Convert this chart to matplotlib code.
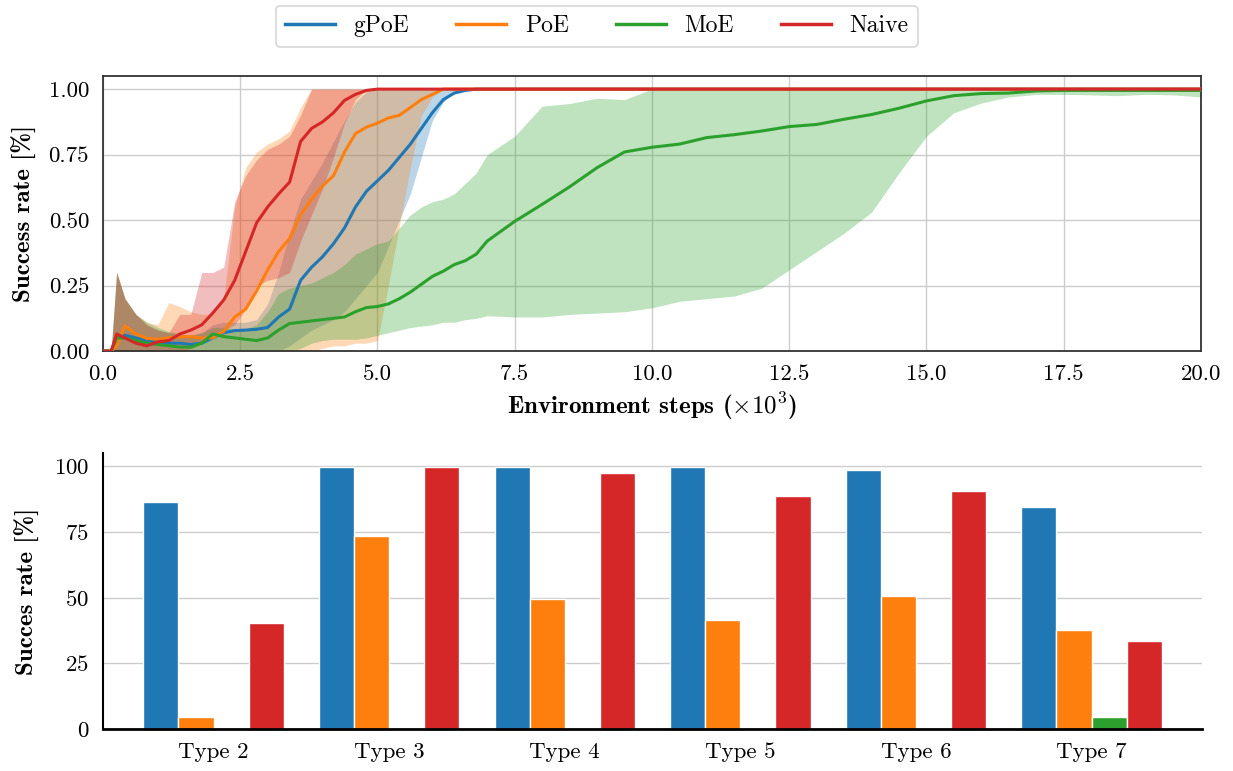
import numpy as np
import matplotlib
matplotlib.use("Agg")
import matplotlib.pyplot as plt
from matplotlib.lines import Line2D

plt.rcParams['font.family'] = ['cmr10', 'DejaVu Serif']
plt.rcParams['mathtext.fontset'] = 'cm'
plt.rcParams['axes.unicode_minus'] = False
plt.rcParams['axes.formatter.use_mathtext'] = True

# ---- data: learning curves (x in 10^3 env steps) ----
x_early = [0.0, 0.15, 0.25, 0.4, 0.6, 0.8, 1.0, 1.2, 1.4, 1.6, 1.8, 2.0, 2.2, 2.4,
           2.6, 2.8, 3.0, 3.2, 3.4, 3.6, 3.8, 4.0, 4.2, 4.4, 4.6, 4.8, 5.0, 5.2,
           5.4, 5.6, 5.8, 6.0, 6.2, 6.4, 6.6, 6.8, 7.0]
x_fast = x_early + [20.0]
x_moe = x_early + [7.5, 8.0, 8.5, 9.0, 9.5, 10.0, 10.5, 11.0, 11.5, 12.0, 12.5, 13.0,
                   13.5, 14.0, 14.5, 15.0, 15.5, 16.0, 16.5, 17.0, 17.5, 18.0, 18.5,
                   19.0, 19.5, 20.0]

gpoe_mean = [0, 0, 0.05, 0.06, 0.05, 0.04, 0.035, 0.03, 0.03, 0.025, 0.03, 0.05, 0.07,
             0.078, 0.08, 0.083, 0.09, 0.13, 0.16, 0.27, 0.32, 0.36, 0.41, 0.47, 0.55,
             0.61, 0.65, 0.69, 0.74, 0.79, 0.85, 0.91, 0.96, 0.985, 0.995, 1.0, 1.0, 1.0]
gpoe_hi = [0, 0, 0.3, 0.2, 0.14, 0.1, 0.08, 0.07, 0.06, 0.06, 0.07, 0.1, 0.11, 0.11,
           0.11, 0.12, 0.18, 0.3, 0.45, 0.58, 0.65, 0.72, 0.8, 0.88, 0.95, 0.99, 1.0,
           1.0, 1.0, 1.0, 1.0, 1.0, 1.0, 1.0, 1.0, 1.0, 1.0, 1.0]
gpoe_lo = [0, 0, 0, 0, 0, 0, 0, 0, 0, 0, 0, 0, 0, 0, 0, 0, 0, 0, 0.02, 0.05, 0.08, 0.1,
           0.12, 0.15, 0.2, 0.25, 0.3, 0.4, 0.5, 0.6, 0.74, 0.88, 0.95, 0.99, 1.0, 1.0,
           1.0, 1.0]

poe_mean = [0, 0, 0.02, 0.096, 0.065, 0.048, 0.045, 0.05, 0.055, 0.055, 0.05, 0.05,
            0.075, 0.13, 0.16, 0.23, 0.31, 0.38, 0.43, 0.52, 0.58, 0.63, 0.67, 0.76,
            0.83, 0.855, 0.87, 0.89, 0.90, 0.93, 0.96, 0.98, 1.0, 1.0, 1.0, 1.0, 1.0, 1.0]
poe_hi = [0, 0, 0.3, 0.2, 0.14, 0.11, 0.1, 0.185, 0.17, 0.15, 0.14, 0.14, 0.2, 0.55,
          0.7, 0.76, 0.79, 0.81, 0.84, 0.93, 1.0, 1.0, 1.0, 1.0, 1.0, 1.0, 1.0, 1.0,
          1.0, 1.0, 1.0, 1.0, 1.0, 1.0, 1.0, 1.0, 1.0, 1.0]
poe_lo = [0, 0, 0, 0, 0, 0, 0, 0, 0, 0, 0, 0, 0, 0, 0, 0, 0, 0, 0, 0, 0.0, 0.01, 0.02,
          0.02, 0.03, 0.03, 0.04, 0.25, 0.48, 0.7, 0.9, 0.97, 1.0, 1.0, 1.0, 1.0, 1.0,
          1.0]

moe_mean = [0, 0, 0.05, 0.05, 0.04, 0.03, 0.025, 0.02, 0.015, 0.015, 0.03, 0.065, 0.055,
            0.05, 0.045, 0.04, 0.05, 0.08, 0.105, 0.11, 0.115, 0.12, 0.125, 0.13, 0.15,
            0.166, 0.17, 0.18, 0.2, 0.225, 0.255, 0.285, 0.305, 0.33, 0.345, 0.37, 0.42,
            0.495, 0.56, 0.627, 0.70, 0.76, 0.778, 0.79, 0.815, 0.826, 0.84, 0.857,
            0.865, 0.885, 0.903, 0.927, 0.955, 0.975, 0.983, 0.985, 0.993, 0.995,
            0.995, 0.995, 0.995, 0.995, 0.995]
moe_hi = [0, 0, 0.3, 0.2, 0.14, 0.11, 0.09, 0.075, 0.065, 0.06, 0.07, 0.09, 0.09, 0.085,
          0.085, 0.1, 0.15, 0.22, 0.24, 0.25, 0.26, 0.28, 0.3, 0.33, 0.37, 0.39, 0.41,
          0.42, 0.47, 0.52, 0.55, 0.57, 0.58, 0.60, 0.64, 0.68, 0.75,
          0.82, 0.935, 0.945, 0.965, 0.96, 1.0, 1.0, 1.0, 1.0, 1.0, 1.0, 1.0, 1.0, 1.0,
          1.0, 1.0, 1.0, 1.0, 1.0, 1.0, 1.0, 1.0, 1.0, 1.0, 1.0, 1.0]
moe_lo = [0, 0, 0, 0, 0, 0, 0, 0, 0, 0, 0, 0, 0, 0, 0, 0, 0, 0, 0, 0.01, 0.03, 0.04,
          0.045, 0.045, 0.045, 0.05, 0.06, 0.07, 0.08, 0.09, 0.095, 0.1, 0.11, 0.11,
          0.12, 0.125, 0.135,
          0.13, 0.13, 0.14, 0.145, 0.15, 0.165, 0.19, 0.2, 0.21, 0.24, 0.31, 0.38, 0.45,
          0.53, 0.68, 0.82, 0.91, 0.947, 0.97, 0.98, 0.98, 0.978, 0.975, 0.98, 0.978,
          0.97]

naive_mean = [0, 0, 0.065, 0.05, 0.03, 0.02, 0.035, 0.04, 0.065, 0.08, 0.10, 0.145,
              0.195, 0.27, 0.38, 0.49, 0.55, 0.60, 0.645, 0.80, 0.85, 0.875, 0.91,
              0.957, 0.98, 0.995, 1.0, 1.0, 1.0, 1.0, 1.0, 1.0, 1.0, 1.0, 1.0, 1.0,
              1.0, 1.0]
naive_hi = [0, 0, 0.3, 0.2, 0.14, 0.1, 0.08, 0.07, 0.14, 0.14, 0.3, 0.3, 0.32, 0.57,
            0.67, 0.73, 0.77, 0.79, 0.82, 0.9, 1.0, 1.0, 1.0, 1.0, 1.0, 1.0, 1.0, 1.0,
            1.0, 1.0, 1.0, 1.0, 1.0, 1.0, 1.0, 1.0, 1.0, 1.0]
naive_lo = [0, 0, 0, 0, 0, 0, 0, 0, 0, 0.01, 0.03, 0.06, 0.08, 0.1, 0.16, 0.25, 0.27,
            0.28, 0.30, 0.42, 0.52, 0.62, 0.74, 0.87, 0.96, 1.0, 1.0, 1.0, 1.0, 1.0,
            1.0, 1.0, 1.0, 1.0, 1.0, 1.0, 1.0, 1.0]

# ---- data: final success rate per type ----
types = ["Type 2", "Type 3", "Type 4", "Type 5", "Type 6", "Type 7"]
gpoe_bar = [86.5, 99.5, 99.5, 99.5, 98.5, 84.5]
poe_bar = [4.5, 73.5, 49.5, 41.5, 50.5, 37.5]
moe_bar = [0, 0, 0, 0, 0, 4.5]
naive_bar = [40.5, 99.5, 97.5, 88.5, 90.5, 33.5]

names = ["gPoE", "PoE", "MoE", "Naive"]
colors = ["#1f77b4", "#ff7f0e", "#2ca02c", "#d62728"]

fig = plt.figure(figsize=(12.33, 7.71), dpi=100)
ax1 = fig.add_axes([0.0835, 0.5447, 0.8905, 0.3567])
ax2 = fig.add_axes([0.0835, 0.0545, 0.8915, 0.358])

curves = [
    (x_fast, gpoe_mean, gpoe_lo, gpoe_hi),
    (x_fast, poe_mean, poe_lo, poe_hi),
    (x_moe, moe_mean, moe_lo, moe_hi),
    (x_fast, naive_mean, naive_lo, naive_hi),
]
for (xs, m, lo, hi), c in zip(curves, colors):
    ax1.fill_between(xs, lo, hi, color=c, alpha=0.3, linewidth=0)
for (xs, m, lo, hi), c, n in zip(curves, colors, names):
    ax1.plot(xs, m, color=c, lw=2.2, label=n, zorder=3)

ax1.set_xlim(0, 20)
ax1.set_ylim(0, 1.05)
ax1.set_xticks(np.arange(0, 20.1, 2.5))
ax1.set_yticks([0, 0.25, 0.5, 0.75, 1.0])
ax1.set_yticklabels(["0.00", "0.25", "0.50", "0.75", "1.00"])
ax1.set_xticklabels(["0.0", "2.5", "5.0", "7.5", "10.0", "12.5", "15.0", "17.5", "20.0"])
ax1.grid(True, color="#cccccc", lw=1.0)
ax1.set_axisbelow(True)
for s in ax1.spines.values():
    s.set_color("#333333")
    s.set_linewidth(1.3)
ax1.tick_params(length=0, pad=10, labelsize=16.5)
ax1.set_ylabel("Success rate [%]", fontfamily="cmb10", fontsize=18, labelpad=8)
ax1.set_xlabel(r"Environment steps ($\times\mathbf{10^3}$)", fontfamily="cmb10",
               fontsize=18, labelpad=4)

# ---- bars ----
pos = np.arange(len(types))
w = 0.2
for i, (vals, c) in enumerate(zip([gpoe_bar, poe_bar, moe_bar, naive_bar], colors)):
    ax2.bar(pos + (i - 1.5) * w, vals, width=w, color=c, edgecolor="white", lw=1.0,
            zorder=2)
ax2.set_xlim(-0.63, len(types) - 0.37)
ax2.set_ylim(0, 105)
ax2.set_yticks([0, 25, 50, 75, 100])
ax2.set_xticks(pos)
ax2.set_xticklabels(types)
ax2.grid(True, axis="y", color="#cccccc", lw=1.0)
ax2.set_axisbelow(True)
ax2.spines["top"].set_visible(False)
ax2.spines["right"].set_visible(False)
ax2.spines["left"].set_color("black")
ax2.spines["left"].set_linewidth(1.5)
ax2.spines["bottom"].set_color("black")
ax2.spines["bottom"].set_linewidth(2.0)
ax2.tick_params(length=0, pad=10, labelsize=16.5)
ax2.set_ylabel("Succes rate [%]", fontfamily="cmb10", fontsize=18, labelpad=10)

handles = [Line2D([0], [0], color=c, lw=2.5) for c in colors]
leg = fig.legend(handles, names, loc="upper center", bbox_to_anchor=(0.484, 1.008),
                 ncol=4, fontsize=17, frameon=True, fancybox=True,
                 edgecolor="#cccccc", handlelength=2.1, handletextpad=0.8,
                 columnspacing=2.0, borderpad=0.4)
leg.get_frame().set_linewidth(1.2)

fig.savefig("out.png", dpi=100)
